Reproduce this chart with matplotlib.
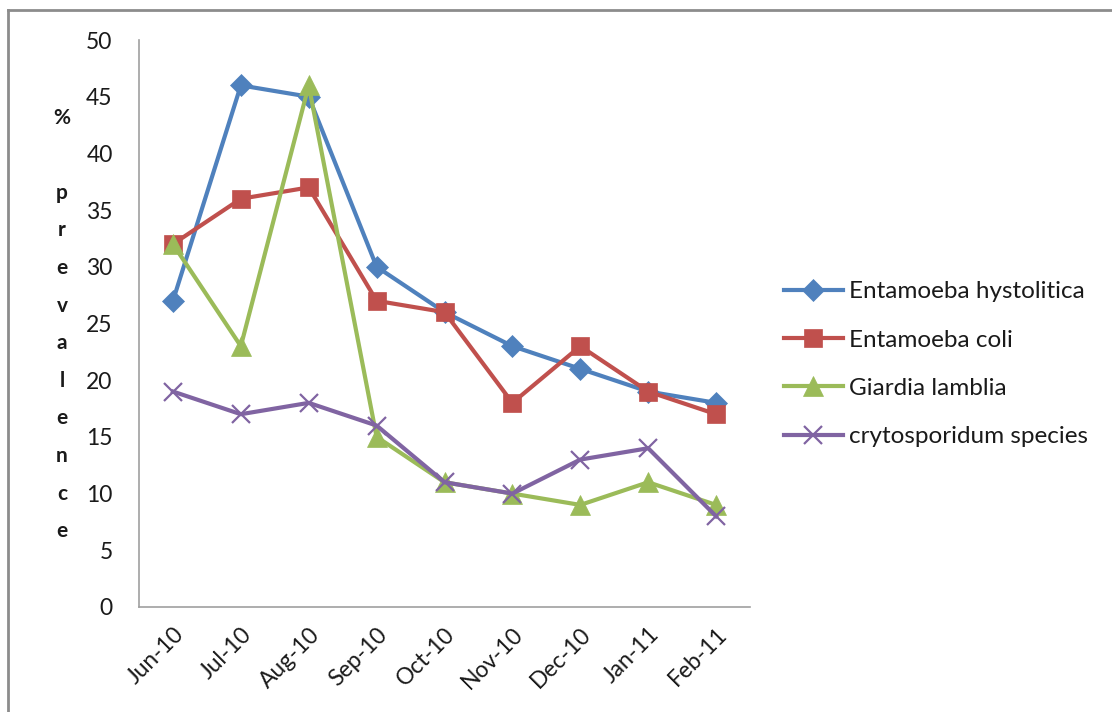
import matplotlib
matplotlib.use("Agg")
import matplotlib.pyplot as plt
from matplotlib.lines import Line2D

months = ["Jun-10", "Jul-10", "Aug-10", "Sep-10", "Oct-10", "Nov-10",
          "Dec-10", "Jan-11", "Feb-11"]
e_hystolitica = [27, 46, 45, 30, 26, 23, 21, 19, 18]
e_coli = [32, 36, 37, 27, 26, 18, 23, 19, 17]
giardia = [32, 23, 46, 15, 11, 10, 9, 11, 9]
crypto = [19, 17, 18, 16, 11, 10, 13, 14, 8]
y_ticks = [0, 5, 10, 15, 20, 25, 30, 35, 40, 45, 50]

FONT = ["Lato", "DejaVu Sans"]
plt.rcParams["font.family"] = FONT

fig = plt.figure(figsize=(11.12, 7.12), dpi=100)
ax = fig.add_axes([0.125, 0.1475, 0.5495, 0.7963])

x = list(range(len(months)))
series = [
    ("Entamoeba hystolitica", e_hystolitica, "#4F81BD", "D", 11),
    ("Entamoeba coli", e_coli, "#C0504D", "s", 13),
    ("Giardia lamblia", giardia, "#9BBB59", "^", 14),
    ("crytosporidum species", crypto, "#8064A2", "x", 13),
]
for name, vals, col, mk, ms in series:
    ax.plot(x, vals, color=col, lw=3, marker=mk, markersize=ms,
            markeredgewidth=1.6 if mk == "x" else 0.5,
            markerfacecolor=col, markeredgecolor=col, label=name)

ax.set_xlim(-0.5, len(months) - 0.5)
ax.set_ylim(0, 50)
ax.set_yticks(y_ticks)
ax.set_xticks(x)
ax.set_xticklabels(months, rotation=45, ha="right", rotation_mode="anchor")
ax.tick_params(axis="both", length=0, labelsize=16.5, colors="#1a1a1a")
ax.tick_params(axis="y", pad=19)
ax.tick_params(axis="x", pad=12)
for side in ("top", "right"):
    ax.spines[side].set_visible(False)
for side in ("left", "bottom"):
    ax.spines[side].set_color("#a0a0a0")
    ax.spines[side].set_linewidth(1.2)

fig.text(0.0557, 0.849, "\n".join("% prevalence"),
         fontsize=15, fontweight="bold", va="top", ha="center",
         linespacing=2.1, color="#1a1a1a")

leg = ax.legend(loc="center left", bbox_to_anchor=(1.04, 0.428), frameon=False,
                fontsize=17.5, handlelength=2.4, handletextpad=0.25,
                labelspacing=1.12, borderaxespad=0)
for t in leg.get_texts():
    t.set_color("#1a1a1a")

# outer chart frame (top and left edges)
fig.add_artist(Line2D([0.0072, 1.0], [0.9855, 0.9855], transform=fig.transFigure,
                      color="#8c8c8c", lw=2))
fig.add_artist(Line2D([0.0072, 0.0072], [0.0, 0.9855], transform=fig.transFigure,
                      color="#8c8c8c", lw=2))

fig.savefig("out.png", dpi=100, facecolor="white")
